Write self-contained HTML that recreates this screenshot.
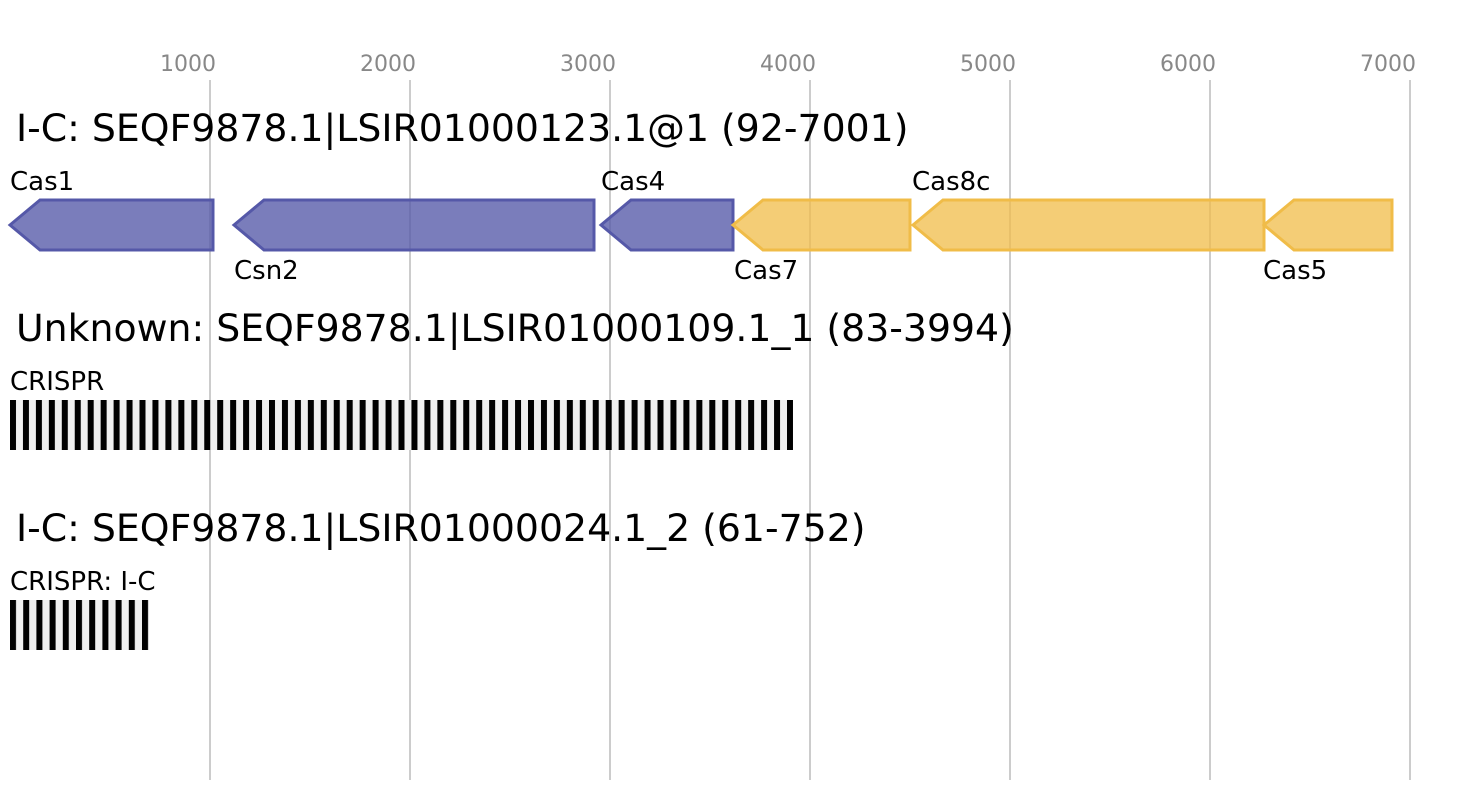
<!DOCTYPE html>
<html><head><style>
body{margin:0;background:#fff;width:1482px;height:800px;overflow:hidden}
svg text{font-family:"DejaVu Sans","Liberation Sans",sans-serif}
</style></head><body>
<svg width="1482" height="800" xmlns="http://www.w3.org/2000/svg">
<defs>
<pattern id="cr" x="10" y="0" width="12.95" height="50" patternUnits="userSpaceOnUse">
<rect width="13" height="50" fill="#efefef"/><rect width="6" height="50" fill="#000"/>
</pattern>
<pattern id="cr2" x="10" y="0" width="13.2" height="50" patternUnits="userSpaceOnUse">
<rect width="14" height="50" fill="#efefef"/><rect width="6" height="50" fill="#000"/>
</pattern>
</defs>
<g stroke="#bbb" stroke-width="1.5">
<line x1="210" y1="80" x2="210" y2="780"/><line x1="410" y1="80" x2="410" y2="780"/>
<line x1="610" y1="80" x2="610" y2="780"/><line x1="810" y1="80" x2="810" y2="780"/>
<line x1="1010" y1="80" x2="1010" y2="780"/><line x1="1210" y1="80" x2="1210" y2="780"/>
<line x1="1410" y1="80" x2="1410" y2="780"/>
</g>
<g fill="#888" font-size="22" text-anchor="middle">
<text x="188" y="71">1000</text><text x="388" y="71">2000</text><text x="588" y="71">3000</text>
<text x="788" y="71">4000</text><text x="988" y="71">5000</text><text x="1188" y="71">6000</text>
<text x="1388" y="71">7000</text>
</g>
<g font-size="37.8" fill="#000">
<text x="16" y="141">I-C: SEQF9878.1|LSIR01000123.1@1 (92-7001)</text>
<text x="16" y="341">Unknown: SEQF9878.1|LSIR01000109.1_1 (83-3994)</text>
<text x="16" y="541">I-C: SEQF9878.1|LSIR01000024.1_2 (61-752)</text>
</g>
<g stroke-width="3" stroke-linejoin="miter">
<g fill="#5558a8" fill-opacity="0.78" stroke="#5558a8">
<polygon points="10,225 40,200 213,200 213,250 40,250"/>
<polygon points="234,225 264,200 594,200 594,250 264,250"/>
<polygon points="601,225 631,200 733,200 733,250 631,250"/>
</g>
<g fill="#f0bc48" fill-opacity="0.75" stroke="#f0bc48">
<polygon points="733,225 763,200 910,200 910,250 763,250"/>
<polygon points="913,225 943,200 1264,200 1264,250 943,250"/>
<polygon points="1264,225 1294,200 1392,200 1392,250 1294,250"/>
</g>
</g>
<g font-size="26" fill="#000">
<text x="10" y="190">Cas1</text><text x="234" y="279">Csn2</text><text x="601" y="190">Cas4</text>
<text x="734" y="279">Cas7</text><text x="912" y="190">Cas8c</text><text x="1263" y="279">Cas5</text>
<text x="10" y="390">CRISPR</text><text x="10" y="590">CRISPR: I-C</text>
</g>
<rect x="10" y="400" width="783" height="50" fill="url(#cr)"/>
<rect x="10" y="600" width="139" height="50" fill="url(#cr2)"/>
</svg>
</body></html>
